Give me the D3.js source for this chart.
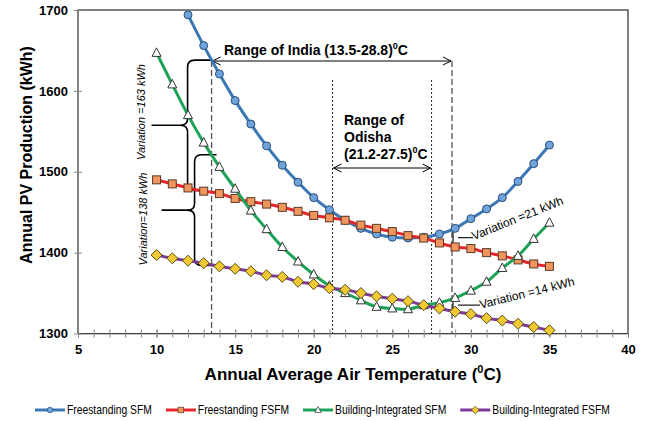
<!DOCTYPE html>
<html>
<head>
<meta charset="utf-8">
<script src="https://cdn.jsdelivr.net/npm/d3@7"></script>
<style>
body { margin: 0; background: #fff; }
svg text { font-family: 'Liberation Sans', Arial, sans-serif; }
.tick-label { font-size: 13px; font-weight: bold; }
.legend-label { font-size: 12px; }
</style>
</head>
<body>
<div id="container"></div>
<script>
var width = 649, height = 421;

// data
var tempsFree = [12,13,14,15,16,17,18,19,20,21,22,23,24,25,26,27,28,29,30,31,32,33,34,35];
var temps = [10,11,12,13,14,15,16,17,18,19,20,21,22,23,24,25,26,27,28,29,30,31,32,33,34,35];
var freeSFM  = [1694,1656,1621,1588,1559,1532,1508,1487,1468,1453,1440,1430,1423,1419,1418,1419,1423,1430,1442,1454,1468,1488,1510,1533];
var freeFSFM = [1490,1485,1480,1476,1473,1467,1463,1460,1456,1451,1446,1443,1440,1434,1430,1426,1421,1418,1412,1407,1405,1400,1396,1391,1386,1383];
var biSFM    = [1647,1608,1570,1536,1506,1479,1452,1429,1407,1389,1373,1359,1350,1341,1333,1331,1330,1335,1338,1344,1353,1364,1381,1396,1417,1437];
var biFSFM   = [1397,1393,1390,1387,1383,1380,1377,1372,1370,1364,1361,1356,1354,1350,1346,1343,1340,1335,1331,1327,1324,1319,1316,1312,1308,1304];

var seriesNames = ['Freestanding SFM','Freestanding FSFM','Building-Integrated SFM','Building-Integrated FSFM'];
var xTicks = [5,10,15,20,25,30,35,40];
var yTicks = [1300,1400,1500,1600,1700];

var indiaRange = [13.5, 28.8];
var odishaRange = [21.2, 27.5];
var leftBraces = [{top:1638, bottom:1477, label:'Variation =163 kWh'}, {top:1521, bottom:1384, label:'Variation=138 kWh'}];
var rightBraces = [{top:1429, bottom:1408, label:'Variation =21 kWh'}, {top:1342, bottom:1328, label:'Variation =14 kWh'}];

var styles = [
	{line:'#3a78b5', fill:'#6fa3dc', stroke:'#2a4f78', shape:'circle'},
	{line:'#e5262b', fill:'#f0955c', stroke:'#5c3a28', shape:'square'},
	{line:'#1ea257', fill:'#ffffff', stroke:'#333333', shape:'triangle'},
	{line:'#7b3a9c', fill:'#f1c932', stroke:'#5c4c10', shape:'diamond'}
];

var series = [
	tempsFree.map(function(t,i){return {t:t, v:freeSFM[i]};}),
	temps.map(function(t,i){return {t:t, v:freeFSFM[i]};}),
	temps.map(function(t,i){return {t:t, v:biSFM[i]};}),
	temps.map(function(t,i){return {t:t, v:biFSFM[i]};})
];

var svg = d3.select('#container').append('svg')
	.attr('width', width)
	.attr('height', height);

var x = d3.scaleLinear().domain([5,40]).range([78,628]);
var y = d3.scaleLinear().domain([1300,1700]).range([333.5,10]);

// plot frame
svg.append('rect')
	.attr('x', x(5)).attr('y', y(1700))
	.attr('width', x(40)-x(5)).attr('height', y(1300)-y(1700))
	.style('fill','none').style('stroke','#000').style('stroke-width',1);

// minor x ticks
var minorAxis = svg.append('g')
	.attr('transform','translate(0,' + y(1300) + ')')
	.call(d3.axisBottom(x).tickValues(d3.range(5,41,1)).tickSize(4).tickFormat(''));
minorAxis.selectAll('.tick line').attr('y1',-4).attr('y2',4).style('stroke','#868686');
minorAxis.select('.domain').remove();

var xAxis = svg.append('g')
	.attr('transform','translate(0,' + y(1300) + ')')
	.call(d3.axisBottom(x).tickValues(xTicks).tickSize(4).tickSizeOuter(0).tickPadding(7));
xAxis.selectAll('.tick line').attr('y1',-4).attr('y2',4).style('stroke','#868686');
xAxis.select('.domain').style('stroke','#868686');
xAxis.selectAll('text').attr('class','tick-label').style('font-family',"'Liberation Sans', Arial, sans-serif").style('fill','#000');

var yAxis = svg.append('g')
	.attr('transform','translate(' + x(5) + ',0)')
	.call(d3.axisLeft(y).tickValues(yTicks).tickFormat(d3.format('d')).tickSize(4).tickSizeOuter(0).tickPadding(6));
yAxis.selectAll('.tick line').attr('x1',-4).attr('x2',4).style('stroke','#868686');
yAxis.select('.domain').style('stroke','#868686');
yAxis.selectAll('text').attr('class','tick-label').style('font-family',"'Liberation Sans', Arial, sans-serif").style('fill','#000');

// axis titles
var xTitle = svg.append('text')
	.attr('x', 353).attr('y', 380)
	.attr('text-anchor','middle')
	.style('font-size','17px').style('font-weight','bold')
	.text('Annual Average Air Temperature (');
xTitle.append('tspan').attr('dy',-7).style('font-size','11px').text('0');
xTitle.append('tspan').attr('dy',7).text('C)');

svg.append('text')
	.attr('transform','translate(32,155) rotate(-90)')
	.attr('text-anchor','middle')
	.style('font-size','16px').style('font-weight','bold')
	.text('Annual PV Production (kWh)');

// range guide lines
svg.selectAll('.india-line')
	.data(indiaRange)
	.enter().append('line')
	.attr('class','india-line')
	.attr('x1', function(d){return x(d);}).attr('x2', function(d){return x(d);})
	.attr('y1', 61).attr('y2', y(1300))
	.style('stroke','#555').style('stroke-width',1.3).style('stroke-dasharray','6,3');

svg.selectAll('.odisha-line')
	.data(odishaRange)
	.enter().append('line')
	.attr('class','odisha-line')
	.attr('x1', function(d){return x(d);}).attr('x2', function(d){return x(d);})
	.attr('y1', 80).attr('y2', y(1300))
	.style('stroke','#222').style('stroke-width',1).style('stroke-dasharray','2,2');

function doubleArrow(x1, x2, yy){
	var h = 8, w = 4;
	return 'M' + x1 + ',' + yy + 'H' + x2
		+ 'M' + (x1+h) + ',' + (yy-w) + 'L' + x1 + ',' + yy + 'L' + (x1+h) + ',' + (yy+w)
		+ 'M' + (x2-h) + ',' + (yy-w) + 'L' + x2 + ',' + yy + 'L' + (x2-h) + ',' + (yy+w);
}

svg.append('path')
	.attr('d', doubleArrow(x(indiaRange[0])+1, x(indiaRange[1])-1, 61))
	.style('fill','none').style('stroke','#000').style('stroke-width',1);
svg.append('path')
	.attr('d', doubleArrow(x(odishaRange[0])+1, x(odishaRange[1])-1, 168))
	.style('fill','none').style('stroke','#000').style('stroke-width',1);

var indiaText = svg.append('text')
	.attr('x', 224).attr('y', 55)
	.style('font-size','14px').style('font-weight','bold')
	.text('Range of India (13.5-28.8)');
indiaText.append('tspan').attr('dy',-6).style('font-size','9px').text('0');
indiaText.append('tspan').attr('dy',6).text('C');

var odishaLines = ['Range of','Odisha','(21.2-27.5)'];
odishaLines.forEach(function(t,i){
	var tx = svg.append('text')
		.attr('x', 344).attr('y', 125 + i*17)
		.style('font-size','14px').style('font-weight','bold')
		.text(t);
	if (i == 2){
		tx.append('tspan').attr('dy',-6).style('font-size','9px').text('0');
		tx.append('tspan').attr('dy',6).text('C');
	}
});

// curly braces
function brace(xV, xTip, yTop, yBot, xTopEnd, xBotEnd, r){
	var yMid = (yTop + yBot)/2;
	return 'M' + xTopEnd + ',' + yTop + 'H' + (xV+r) + 'Q' + xV + ',' + yTop + ' ' + xV + ',' + (yTop+r)
		+ 'V' + (yMid-r) + 'Q' + xV + ',' + yMid + ' ' + (xV-r) + ',' + yMid + 'H' + xTip
		+ 'M' + (xV-r) + ',' + yMid + 'Q' + xV + ',' + yMid + ' ' + xV + ',' + (yMid+r)
		+ 'V' + (yBot-r) + 'Q' + xV + ',' + yBot + ' ' + (xV+r) + ',' + yBot + 'H' + xBotEnd;
}

var xIndia = x(indiaRange[0]);
var braceGeo = [{v:-24, tip:-60, topEnd:0, botEnd:-6, lx:141, ly:112}, {v:-17, tip:-50, topEnd:5, botEnd:5, lx:143, ly:219}];

leftBraces.forEach(function(b,i){
	var g = braceGeo[i];
	svg.append('path')
		.attr('d', brace(xIndia+g.v, xIndia+g.tip, y(b.top), y(b.bottom), xIndia+g.topEnd, xIndia+g.botEnd, 7))
		.style('fill','none').style('stroke','#000').style('stroke-width',1.6);
	svg.append('text')
		.attr('transform','translate(' + (g.lx+4) + ',' + g.ly + ') rotate(-90)')
		.attr('text-anchor','middle')
		.style('font-size','11px').style('font-style','italic')
		.text(b.label);
});

var xIndiaR = x(indiaRange[1]);
var rightGeo = [{lx:519, ly:222, rot:-22, tail:15}, {lx:528, ly:297, rot:-14, tail:22}];
rightBraces.forEach(function(b,i){
	var g = rightGeo[i];
	var yt = y(b.top), yb = y(b.bottom), ym = (yt+yb)/2;
	svg.append('path')
		.attr('d','M' + (xIndiaR+6) + ',' + yt + 'H' + (xIndiaR+1) + 'V' + yb + 'H' + (xIndiaR+6)
			+ 'M' + (xIndiaR+6) + ',' + ym + 'H' + (xIndiaR+6+g.tail))
		.style('fill','none').style('stroke','#222').style('stroke-width',1.3);
	svg.append('text')
		.attr('transform','translate(' + g.lx + ',' + g.ly + ') rotate(' + g.rot + ')')
		.attr('text-anchor','middle')
		.style('font-size','12px')
		.text(b.label);
});

// series lines
var line = d3.line()
	.x(function(d){return x(d.t);})
	.y(function(d){return y(d.v);})
	.curve(d3.curveCatmullRom.alpha(0.5));

function marker(sel, shape){
	if (shape == 'circle') return sel.append('circle').attr('r',4);
	if (shape == 'square') return sel.append('rect').attr('x',-4).attr('y',-4).attr('width',8).attr('height',8);
	if (shape == 'triangle') return sel.append('path').attr('d','M0,-5L4.5,3.5L-4.5,3.5Z');
	return sel.append('path').attr('d','M0,-5.5L5.5,0L0,5.5L-5.5,0Z');
}

series.forEach(function(s,i){
	var st = styles[i];
	svg.append('path')
		.datum(s)
		.attr('d', line)
		.style('fill','none')
		.style('stroke', st.line)
		.style('stroke-width',3);
	var pts = svg.selectAll('.pt' + i)
		.data(s)
		.enter().append('g')
		.attr('class','pt' + i)
		.attr('transform', function(d){return 'translate(' + x(d.t) + ',' + y(d.v) + ')';});
	marker(pts, st.shape)
		.style('fill', st.fill)
		.style('stroke', st.stroke)
		.style('stroke-width',1);
});

// legend (text squeezed horizontally to mimic the narrow face)
var legend = svg.append('g').attr('transform','translate(35,410)');
var lx = 0, squeeze = 0.86;
seriesNames.forEach(function(name,i){
	var st = styles[i];
	var item = legend.append('g').attr('transform','translate(' + lx + ',0)');
	item.append('line').attr('x1',0).attr('x2',30).attr('y1',0).attr('y2',0)
		.style('stroke', st.line).style('stroke-width',3);
	var m = item.append('g').attr('transform','translate(15,0) scale(0.7)');
	marker(m, st.shape).style('fill', st.fill).style('stroke', st.stroke).style('stroke-width',1);
	var t = item.append('text').attr('class','legend-label')
		.attr('transform','translate(32,4) scale(' + squeeze + ',1)')
		.text(name);
	lx += 32 + t.node().getComputedTextLength()*squeeze + 14;
});
</script>
</body>
</html>
